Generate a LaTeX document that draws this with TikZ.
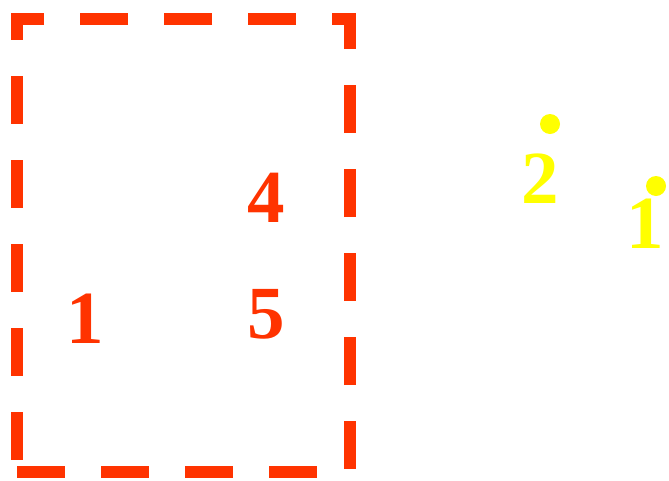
\documentclass[tikz,border=0pt]{standalone}
\usepackage{fontspec}
\setmainfont{Liberation Serif}
\definecolor{boxred}{RGB}{255,51,0}
\definecolor{dotyellow}{RGB}{255,255,0}
\begin{document}
\begin{tikzpicture}[x=1pt,y=-1pt,
  frame/.style={draw=boxred,line width=12pt,dash pattern=on 48pt off 36pt},
  redlabel/.style={text=boxred,font=\fontsize{75}{75}\selectfont\bfseries,inner sep=0pt,anchor=base},
  yellabel/.style={text=dotyellow,font=\fontsize{75}{75}\selectfont\bfseries,inner sep=0pt,anchor=base},
  ydot/.style={fill=dotyellow,draw=none}]
\useasboundingbox (0,0) rectangle (669,480);
\coordinate (bl) at (17,472);
\coordinate (br) at (350,472);
\coordinate (tr) at (350,19);
\coordinate (tl) at (17,19);
\draw[frame] (bl) -- (br) -- (tr) -- (tl) -- cycle;
\node[redlabel] (n4) at (266,222) {4};
\node[redlabel] (n5) at (266,338) {5};
\node[redlabel] (n1) at (85,343) {1};
\node[yellabel] (y2) at (540,203) {2};
\node[yellabel] (y1) at (645,248) {1};
\fill[ydot] (550,124) circle (10);
\fill[ydot] (656,186) circle (10);
\end{tikzpicture}
\end{document}
